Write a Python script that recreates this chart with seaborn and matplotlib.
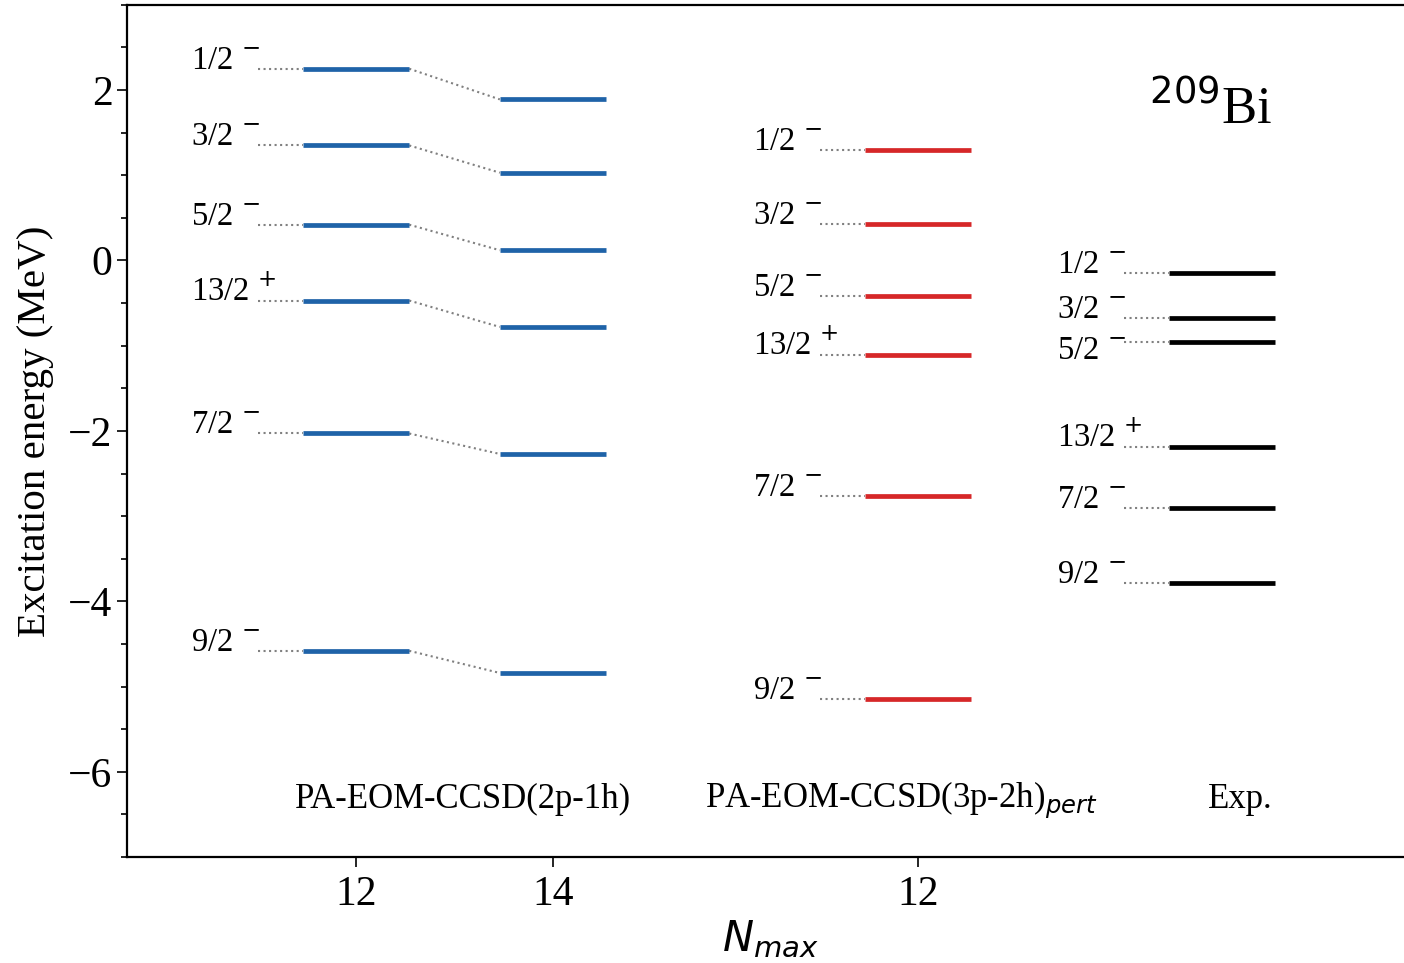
import matplotlib
matplotlib.use("Agg")
import matplotlib.pyplot as plt
import seaborn as sns
from matplotlib.ticker import MultipleLocator, AutoMinorLocator

# level labels (spin / parity), same order in every column
spins = ['1/2', '3/2', '5/2', '13/2', '7/2', '9/2']
parity = ['-', '-', '-', '+', '-', '-']

# excitation energies (MeV)
e_2p1h_n12 = [2.25, 1.35, 0.42, -0.47, -2.03, -4.58]
e_2p1h_n14 = [1.89, 1.03, 0.12, -0.78, -2.27, -4.84]
e_3p2h_n12 = [1.30, 0.43, -0.42, -1.11, -2.76, -5.14]
e_exp = [-0.15, -0.68, -0.96, -2.19, -2.90, -3.79]

col_pos = [0, 1, 2.853, 4.396]
col_tick_labels = ['12', '14', '12']
col_data = [e_2p1h_n12, e_2p1h_n14, e_3p2h_n12, e_exp]
col_colors = ['#1f63a8', '#1f63a8', '#d62728', 'black']
show_labels = [True, False, True, True]

group_names = ['PA-EOM-CCSD(2p-1h)', 'PA-EOM-CCSD(3p-2h)$_{pert}$', 'Exp.']
group_x = [0.543, 2.767, 4.487]

sns.set_style("ticks")
plt.rcParams['font.family'] = ['Liberation Serif', 'DejaVu Serif']
plt.rcParams.update({'text.color': 'black', 'axes.labelcolor': 'black',
                     'axes.edgecolor': 'black', 'xtick.color': 'black',
                     'ytick.color': 'black'})

fig = plt.figure(figsize=(14.04, 9.63), dpi=100)
ax = fig.add_axes([0.0905, 0.110, 0.916, 0.885])

half = 0.27
gap = 0.23
# small nudge for crowded experimental labels
label_shift = {(3, 2): -0.2}
for i, (x, energies, color, lab) in enumerate(zip(col_pos, col_data, col_colors, show_labels)):
    ax.hlines(energies, x - half, x + half, color=color, lw=3.4, zorder=3)
    if lab:
        for j, (e, s, p) in enumerate(zip(energies, spins, parity)):
            ax.plot([x - half - gap, x - half], [e, e], ls=':', color='gray', lw=1.5)
            ax.text(x - 0.838, e + label_shift.get((i, j), 0), s + ' $^{' + p + '}$',
                    ha='left', va='baseline', fontsize=23.5)

# connect N=12 and N=14 levels
for e1, e2 in zip(e_2p1h_n12, e_2p1h_n14):
    ax.plot([col_pos[0] + half, col_pos[1] - half], [e1, e2], ls=':', color='gray', lw=1.5)

for name, gx in zip(group_names, group_x):
    ax.text(gx, -6.33, name, ha='center', va='center', fontsize=25)

ax.text(4.65, 1.60, '$^{209}$Bi', ha='right', va='baseline', fontsize=38)

ax.set_xlim(-1.162, 5.365)
ax.set_ylim(-7, 3)
ax.set_xticks(col_pos[:3])
ax.set_xticklabels(col_tick_labels)
ax.yaxis.set_major_locator(MultipleLocator(2))
ax.yaxis.set_minor_locator(AutoMinorLocator(4))
ax.tick_params(axis='both', which='major', labelsize=30, length=7, width=1.2)
ax.tick_params(axis='x', which='major', pad=6)
ax.tick_params(axis='y', which='minor', length=4, width=1.2)
for sp in ax.spines.values():
    sp.set_linewidth(1.6)

ax.set_xlabel('$N_{max}$', fontsize=30, labelpad=4)
ax.set_ylabel('Excitation energy (MeV)', fontsize=29.5, labelpad=10)

fig.savefig('out.png', dpi=100)
